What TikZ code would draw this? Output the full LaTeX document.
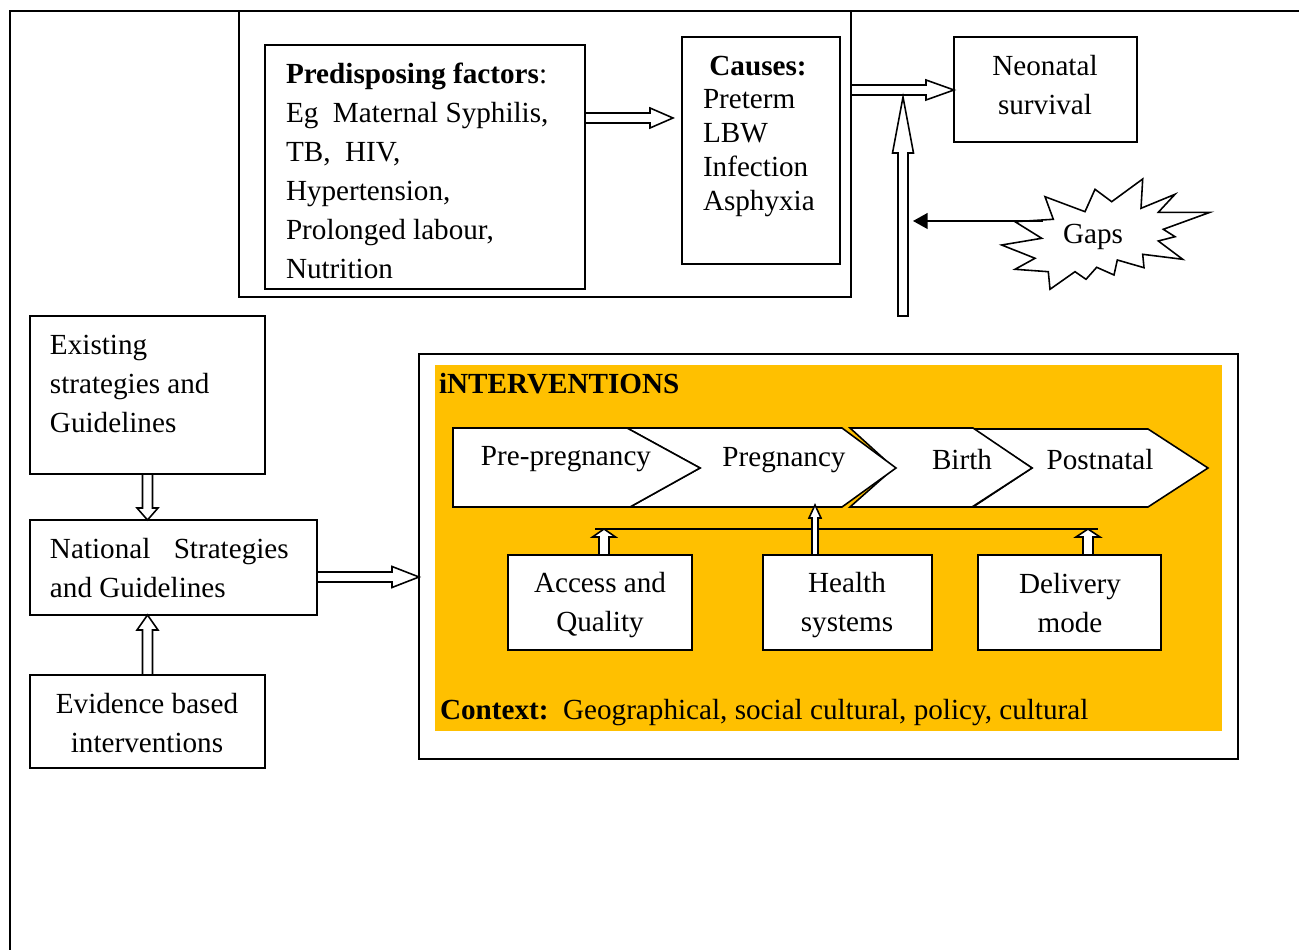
\documentclass[tikz,border=0pt]{standalone}
\usepackage{fontspec}
\setmainfont{Liberation Serif}
\usetikzlibrary{calc,arrows.meta,fit}
\definecolor{amber}{HTML}{FFC000}
\newcommand\blockarrow[5]{%
  \path (#1) coordinate (ba-s) (#2) coordinate (ba-e);
  \coordinate (ba-b) at ($(ba-e)!#5*0.4115pt!(ba-s)$);
  \draw[blockarr] ($(ba-s)!#3*0.4115pt!90:(ba-e)$)
     -- ($(ba-b)!#3*0.4115pt!90:(ba-e)$)
     -- ($(ba-b)!#4*0.4115pt!90:(ba-e)$)
     -- (ba-e)
     -- ($(ba-b)!#4*0.4115pt!-90:(ba-e)$)
     -- ($(ba-b)!#3*0.4115pt!-90:(ba-e)$)
     -- ($(ba-s)!#3*0.4115pt!-90:(ba-e)$) -- cycle;
}
\begin{document}
\begin{tikzpicture}[x=0.4115pt,y=-0.4115pt,
  font=\fontsize{12}{16}\selectfont,
  box/.style={draw, line width=0.65pt, fill=white, inner sep=0pt, outer sep=0pt},
  frame/.style={draw, line width=0.85pt, inner sep=0pt, outer sep=0pt},
  txt/.style={inner sep=0pt, outer sep=0pt},
  ltxt/.style={txt, anchor=west, align=left},
  ctxt/.style={txt, align=center},
  blockarr/.style={draw, line width=0.65pt, fill=white, line join=miter},
  chev/.style={draw, line width=0.65pt, fill=white, line join=miter},
]
\useasboundingbox (0,0) rectangle (1299,950);
% outer frame (open on right and bottom)
\draw[line width=0.85pt] (10,950) -- (10,11) -- (1299,11);
% top group frame
\node[frame, fit={(239,11) (851,297)}] (topbox) {};
% predisposing
\node[box, fit={(265,45) (585,289)}] (pred) {};
\node[ltxt] (predT) at (286,171) {\textbf{Predisposing factors}:\\Eg\ \ Maternal Syphilis,\\TB,\ \ HIV,\\Hypertension,\\Prolonged labour,\\Nutrition};
% causes
\node[box, fit={(682,37) (840,264)}] (causes) {};
\node[txt] (causesH) at (758,66) {\textbf{Causes:}};
\node[ltxt, font=\fontsize{12}{14}\selectfont] (causesT) at (703,153) {Preterm\\LBW\\Infection\\Asphyxia};
% neonatal survival
\node[box, fit={(954,37) (1137,142)}] (neon) {};
\node[ctxt] (neonT) at (1045,85) {Neonatal\\survival};
% arrows in top part
\blockarrow{pred.east |- 0,118}{$(causes.west |- 0,118)+(-9,0)$}{5}{10}{23}
\blockarrow{topbox.east |- 0,90}{neon.west |- 0,90}{5}{10}{28}
\coordinate (vbot) at (903,316);
\coordinate (vtop) at (903,97);
\blockarrow{vbot}{vtop}{5}{10.5}{56}
% gaps starburst
\draw[line width=0.65pt, fill=white, line join=miter] (1001.7,245) -- (1041.7,238.3) -- (1015,221.7) -- (1053.3,219.3) -- (1045,196.7) -- (1085,211.7) -- (1095,189.3) -- (1111.7,201.7) -- (1142.7,179) -- (1141,208.3) -- (1175,194.3) -- (1158.3,212.3) -- (1210,212.3) -- (1163.3,229.3) -- (1175,236.7) -- (1158.3,241) -- (1182.7,259.3) -- (1142.7,254.3) -- (1144,267.7) -- (1117.3,260) -- (1114,275) -- (1096.7,267.3) -- (1086,279.3) -- (1075,271.7) -- (1050,289.3) -- (1048.3,271.7) -- (1015,269.3) -- (1035,258.3) -- cycle;
\node[txt] (gapsT) at (1093,237) {Gaps};
\coordinate (gapsend) at (1043,221);
\draw[line width=0.65pt, -{Triangle[length=6pt,width=6.5pt]}] (gapsend) -- ($(vtop |- gapsend)+(10,0)$);
% left column
\node[box, fit={(30,316) (265,474)}] (existing) {};
\node[ltxt] (existingT) at (50,384) {Existing\\strategies and\\Guidelines};
\node[box, fit={(30,520) (317,615)}] (national) {};
\node[ltxt] (nationalT) at (50,568) {National\hspace{0.8em}Strategies\\and Guidelines};
\node[box, fit={(30,675) (265,768)}] (evidence) {};
\node[ctxt] (evidenceT) at (147,723) {Evidence based\\interventions};
\blockarrow{existing.south}{existing.south |- national.north}{5}{10.5}{12}
\blockarrow{evidence.north}{evidence.north |- national.south}{5}{10.5}{15}
% interventions frame
\node[frame, fit={(419,354) (1238,759)}] (intbox) {};
\fill[amber] (435,365) rectangle (1222,731);
\blockarrow{national.east |- 0,577}{intbox.west |- 0,577}{5}{10.5}{27}
\node[txt, anchor=west] (intT) at (439,384) {\textbf{iNTERVENTIONS}};
% chevrons
\draw[chev] (973,429) -- (1148,429) -- (1208,468) -- (1148,507) -- (973,507) -- (1032,468) -- cycle;
\draw[chev] (850,428) -- (973,428) -- (1032,468) -- (972,507) -- (850,507) -- (894,468) -- cycle;
\draw[chev] (627,428) -- (842,428) -- (896,468) -- (842,507) -- (630,507) -- (700,468) -- cycle;
\draw[chev] (453,428) -- (627,428) -- (700,468) -- (630,507) -- (453,507) -- cycle;
\node[txt] (preT) at (566,459) {Pre-pregnancy};
\node[txt] (pregT) at (784,460) {Pregnancy};
\node[txt] (birthT) at (962,460) {Birth};
\node[txt] (postT) at (1100,460) {Postnatal};
% bottom boxes
\node[box, fit={(508,555) (692,650)}] (access) {};
\node[ctxt] (accessT) at (600,605) {Access and\\Quality};
\node[box, fit={(763,555) (932,650)}] (health) {};
\node[ctxt] (healthT) at (847,605) {Health\\systems};
\node[box, fit={(978,555) (1161,650)}] (delivery) {};
\node[ctxt] (deliveryT) at (1070,603) {Delivery\\mode};
% connector line
\coordinate (hl) at (595,529);
\coordinate (hr) at (1098,529);
\draw[line width=0.65pt] (hl) -- (hr);
\coordinate (chevbot) at (815,505);
\blockarrow{access.north -| 604,0}{604,0 |- hl}{5}{11.5}{8}
\blockarrow{health.north -| 815,0}{chevbot}{3}{6}{13}
\blockarrow{delivery.north -| 1088,0}{1088,0 |- hl}{5}{12}{8}
\node[txt, anchor=west] (contextT) at (440,713) {\textbf{Context:}\ \ Geographical, social cultural, policy, cultural};
\end{tikzpicture}
\end{document}
